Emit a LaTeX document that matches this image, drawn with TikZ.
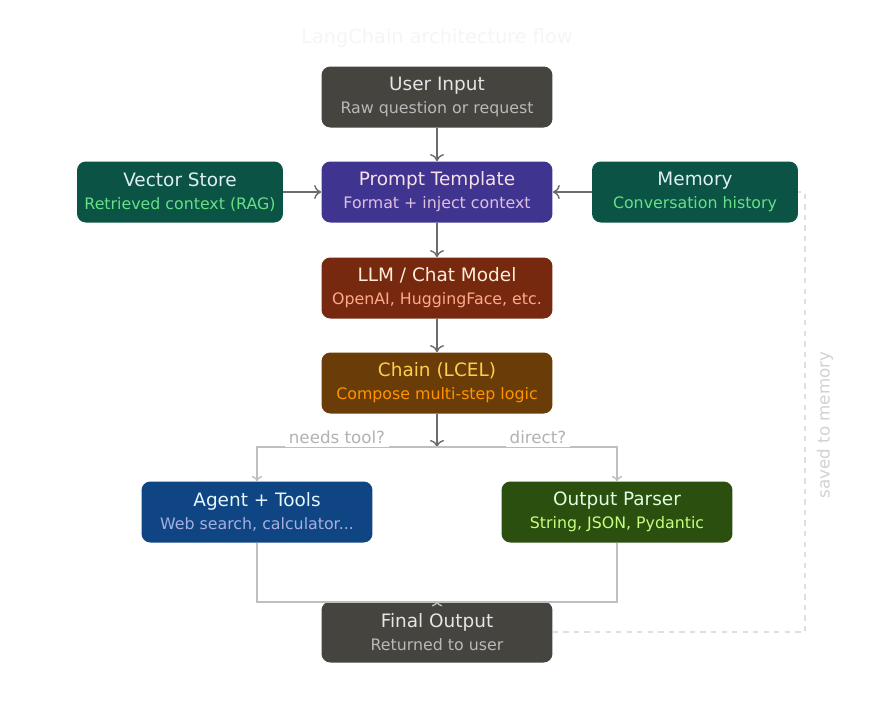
\documentclass[tikz,border=0pt]{standalone}
\usepackage{fontspec}
\setmainfont{DejaVu Sans}
\usetikzlibrary{arrows.meta}
\definecolor{grayfill}{HTML}{45443F}
\definecolor{purplefill}{HTML}{3F3590}
\definecolor{tealfill}{HTML}{0B5345}
\definecolor{redfill}{HTML}{76290F}
\definecolor{brownfill}{HTML}{6A3C08}
\definecolor{bluefill}{HTML}{0E4582}
\definecolor{greenfill}{HTML}{2A4F0E}
\tikzset{
  box/.style={rounded corners=5pt, minimum width=4.62cm, minimum height=1.22cm, align=center, inner sep=0pt},
  flow/.style={draw=gray!85!black, line width=0.8pt, -{To[length=4pt,width=8pt]}},
  branch/.style={draw=gray!50, line width=0.8pt},
}
\begin{document}
\begin{tikzpicture}[x=0.02cm, y=-0.02cm]
    \useasboundingbox (0,0) rectangle (875,721);
    \node[text=gray!8] (title) at (437,38) {\fontsize{11}{13}\selectfont LangChain architecture flow};
    % main column
    \node[box, fill=grayfill] (input) at (437,97) {\fontsize{10.5}{13}\selectfont\color{gray!20}User Input\\[1pt]\fontsize{9}{11}\selectfont\color{gray!55}Raw question or request};
    \node[box, fill=purplefill] (prompt) at (437,192) {\fontsize{10.5}{13}\selectfont\color{white!88!purple}Prompt Template\\[1pt]\fontsize{9}{11}\selectfont\color{violet!25}Format + inject context};
    \node[box, fill=tealfill, minimum width=4.12cm] (vector) at (180,192) {\fontsize{10.5}{13}\selectfont\color{white!88!teal}Vector Store\\[1pt]\fontsize{9}{11}\selectfont\color{teal!40!green!60}Retrieved context (RAG)};
    \node[box, fill=tealfill, minimum width=4.12cm] (memory) at (695,192) {\fontsize{10.5}{13}\selectfont\color{white!88!teal}Memory\\[1pt]\fontsize{9}{11}\selectfont\color{teal!40!green!60}Conversation history};
    \node[box, fill=redfill] (llm) at (437,288) {\fontsize{10.5}{13}\selectfont\color{orange!15}LLM / Chat Model\\[1pt]\fontsize{9}{11}\selectfont\color{orange!50!red!45}OpenAI, HuggingFace, etc.};
    \node[box, fill=brownfill] (chain) at (437,383) {\fontsize{10.5}{13}\selectfont\color{orange!55!yellow!70}Chain (LCEL)\\[1pt]\fontsize{9}{11}\selectfont\color{orange!85!yellow}Compose multi-step logic};
    \node[box, fill=bluefill] (agent) at (257,512) {\fontsize{10.5}{13}\selectfont\color{cyan!10}Agent + Tools\\[1pt]\fontsize{9}{11}\selectfont\color{cyan!30!blue!35}Web search, calculator...};
    \node[box, fill=greenfill] (parser) at (617,512) {\fontsize{10.5}{13}\selectfont\color{green!12}Output Parser\\[1pt]\fontsize{9}{11}\selectfont\color{green!45!yellow!50}String, JSON, Pydantic};
    \node[box, fill=grayfill] (final) at (437,632) {\fontsize{10.5}{13}\selectfont\color{gray!20}Final Output\\[1pt]\fontsize{9}{11}\selectfont\color{gray!55}Returned to user};
    \coordinate (split) at (437,447);
    \coordinate (merge) at (437,602);
    \coordinate (loop) at (805,632);
    \draw[flow] (input) -- (prompt);
    \draw[flow] (vector) -- (prompt);
    \draw[flow] (memory) -- (prompt);
    \draw[flow] (prompt) -- (llm);
    \draw[flow] (llm) -- (chain);
    \draw[flow] (chain) -- (split);
    % branches
    \draw[branch, -{To[length=3pt,width=6pt]}] (split) -| (agent);
    \draw[branch, -{To[length=3pt,width=6pt]}] (split) -| (parser);
    \node[fill=white, text=gray!60, inner sep=2pt] (needs) at (337,437) {\fontsize{9.5}{11}\selectfont needs tool?};
    \node[fill=white, text=gray!60, inner sep=2pt] (direct) at (538,437) {\fontsize{9.5}{11}\selectfont direct?};
    \draw[branch] (agent) |- (merge);
    \draw[branch] (parser) |- (merge);
    \draw[branch, -{To[length=3pt,width=6pt]}] (merge) -- (final);
    % memory loop
    \draw[draw=gray!25, line width=0.8pt, dashed] (final) -- (loop) |- (memory);
    \node[fill=white, text=gray!35, rotate=90, inner sep=3pt] (saved) at (825,425) {\fontsize{9.5}{11}\selectfont saved to memory};
\end{tikzpicture}
\end{document}
